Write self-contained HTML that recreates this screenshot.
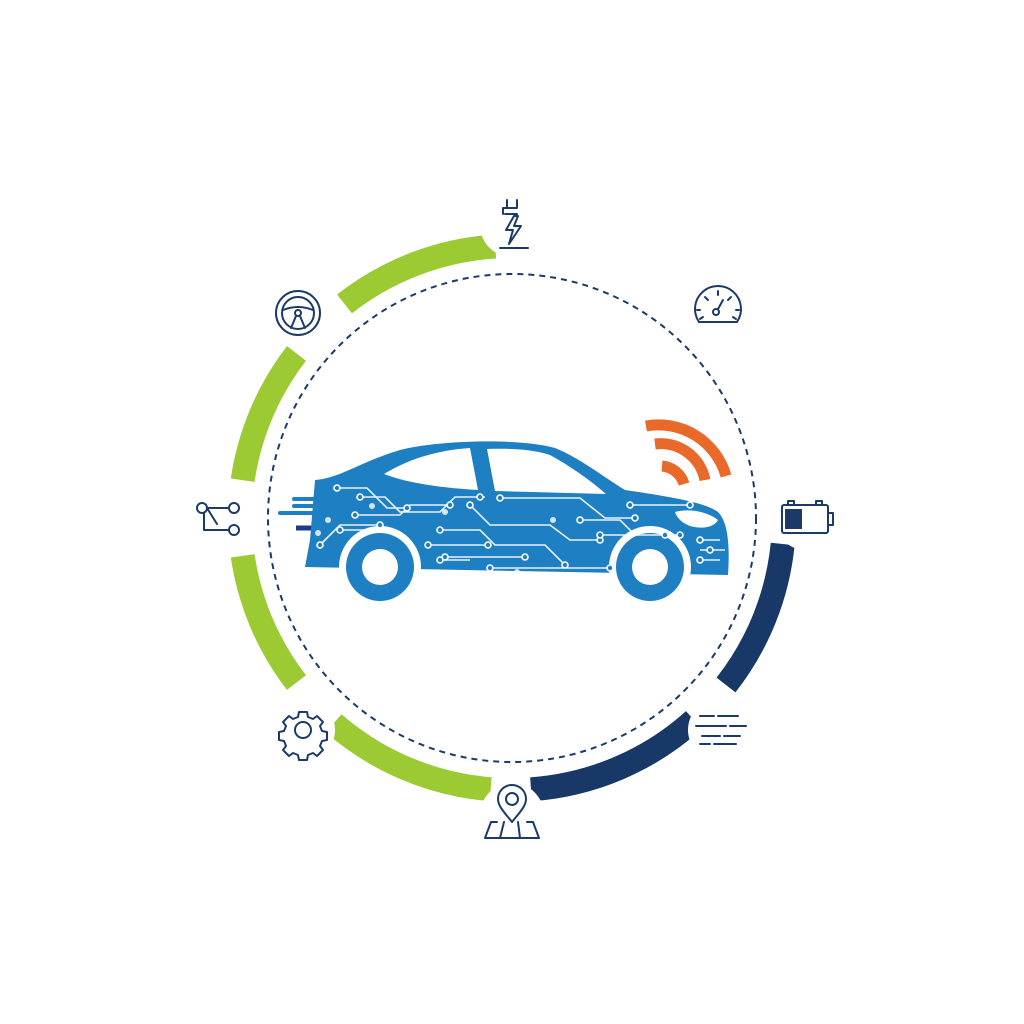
<!DOCTYPE html>
<html><head><style>html,body{margin:0;padding:0;background:#fff}svg{display:block}</style></head>
<body>
<svg width="1024" height="1024" viewBox="0 0 1024 1024" xmlns="http://www.w3.org/2000/svg">
<rect width="1024" height="1024" fill="#fff"/>
<g fill="none" stroke-width="24">
<path d="M495.3,246.5 A272,272 0 0 0 344.5,303.9" stroke="#9bca32"/>
<path d="M296.5,353.4 A272,272 0 0 0 242.7,480.2" stroke="#9bca32"/>
<path d="M242.7,555.8 A272,272 0 0 0 296.5,682.6" stroke="#9bca32"/>
<path d="M333.6,723.3 A272,272 0 0 0 490.7,789.2" stroke="#9bca32"/>
<path d="M531,789.3 A272,272 0 0 0 694,720" stroke="#183868"/>
<path d="M726,685 A272,272 0 0 0 782.7,544" stroke="#183868"/>
</g>
<circle cx="512" cy="518" r="244" fill="none" stroke="#1c3a66" stroke-width="2" stroke-dasharray="6,5"/>
<g fill="#fff">
<circle cx="512" cy="225" r="32"/><circle cx="298" cy="312" r="32"/><circle cx="218" cy="518" r="32"/>
<circle cx="303" cy="730" r="32"/><circle cx="512" cy="815" r="32"/><circle cx="720" cy="730" r="32"/>
<circle cx="806" cy="518" r="32"/><circle cx="718" cy="305" r="32"/>
</g>
<g fill="none" stroke="#1c3a66" stroke-width="2" stroke-linejoin="round" stroke-linecap="round">
<path d="M507,200 v8 M517,200 v8 M503,208 h14 M503,208 v6 M505,214 h12 M514,216 l-8,14 h7 l-4,14 l12,-18 h-7 l4,-10 z M500,248 h28"/>
<circle cx="298" cy="313" r="22"/><circle cx="298" cy="313" r="16"/><circle cx="298" cy="313" r="3"/>
<path d="M283,310 q15,-6 30,0 M296,316 l-5,12 M300,316 l5,12"/>
<path d="M699,322 A23,23 0 1 1 737,322 z M718,291 v4 M705,297 l3,3 M731,297 l-3,3 M697,310 h3 M739,310 h-3 M700,319 l3,-2 M736,319 l-3,-2"/>
<circle cx="716" cy="312" r="3"/><path d="M718,309 l5,-9"/>
<rect x="782" y="505" width="46" height="28" rx="2"/><path d="M828,513 h5 v12 h-5 M788,505 v-4 h6 v4 M816,505 v-4 h6 v4"/>
<circle cx="202" cy="508" r="5"/><circle cx="234" cy="508" r="5"/><circle cx="234" cy="530" r="5"/>
<path d="M207,508 h22 M207,508 l10,16 M204,530 h25 M204,513 v17"/>
<circle cx="303" cy="730" r="8"/>
<path d="M299,712 h8 l1,5 l5,2 l4,-3 l6,6 l-3,4 l2,5 l5,1 v8 l-5,1 l-2,5 l3,4 l-6,6 l-4,-3 l-5,2 l-1,5 h-8 l-1,-5 l-5,-2 l-4,3 l-6,-6 l3,-4 l-2,-5 l-5,-1 v-8 l5,-1 l2,-5 l-3,-4 l6,-6 l4,3 l5,-2 z"/>
<path d="M512,822 c-8,-10 -14,-16 -14,-23 a14,14 0 0 1 28,0 c0,7 -6,13 -14,23 z"/><circle cx="512" cy="799" r="6"/>
<path d="M497,822 h-6 l-6,16 h54 l-6,-16 h-6 M500,838 l4,-16 M520,838 l-2,-16"/>
<path d="M700,716 h14 M718,716 h20 M696,726 h30 M730,726 h16 M702,736 h18 M724,736 h16 M700,744 h10 M714,744 h22"/>
</g>
<rect x="785" y="509" width="17" height="20" fill="#1c3a66"/>
<g fill="none" stroke="#e8692a" stroke-width="11">
<path d="M662,466 a25,25 0 0 1 22,18"/>
<path d="M655,444 a45,45 0 0 1 50,36"/>
<path d="M646,426 a70,70 0 0 1 80,50"/>
</g>
<g stroke="#1e7fc3" stroke-width="4" stroke-linecap="round">
<line x1="294" y1="499" x2="318" y2="499"/><line x1="280" y1="513" x2="318" y2="513"/><line x1="294" y1="506" x2="318" y2="506"/>
</g>
<line x1="296" y1="528" x2="318" y2="528" stroke="#1c3a8a" stroke-width="5"/>
<path d="M315,480 C340,478 360,462 400,450 C440,440 520,438 555,448 C580,458 605,478 625,490 C665,496 705,502 718,512 C728,522 730,545 728,575 L305,567 L310,540 Z" fill="#1e7fc3"/>
<path d="M384,474 C410,458 440,450 470,448 L478,490 C445,488 410,484 384,474 Z" fill="#fff"/>
<path d="M487,449 C515,448 535,450 550,455 C570,466 590,480 606,494 L495,491 Z" fill="#fff"/>
<path d="M675,512 C690,508 708,512 718,520 C715,526 705,530 690,526 C682,523 677,518 675,512 Z" fill="#fff"/>
<circle cx="380" cy="567" r="41" fill="#fff"/><circle cx="650" cy="567" r="41" fill="#fff"/>
<circle cx="380" cy="567" r="34" fill="#1e7fc3"/><circle cx="650" cy="567" r="34" fill="#1e7fc3"/>
<circle cx="380" cy="567" r="18" fill="#fff"/><circle cx="650" cy="567" r="18" fill="#fff"/>
<g fill="none" stroke="#fff" stroke-width="1.6" opacity="0.9">
<path d="M337,488 h30 l20,20 h20 M360,497 h25 l15,15 h40 l15,-15 h30 M355,515 h45 l10,-10 h40 M440,530 h40 l15,15 h50 l20,20 M470,505 l20,20 h60 l20,15 h30 M500,498 h80 l25,20 h30 M428,545 h60 M445,557 h80 M490,568 h120 M580,520 h40 l15,15 h30 M630,505 h60 M600,535 h80 M700,540 h20 M700,550 h25 M700,560 h20 M320,545 l20,-20 h40 M440,560 h30 M340,530 h30"/>
</g>
<g fill="#1e7fc3" stroke="#fff" stroke-width="1.6">
<circle cx="337" cy="488" r="3"/><circle cx="407" cy="508" r="3"/><circle cx="360" cy="497" r="3"/><circle cx="480" cy="497" r="3"/>
<circle cx="355" cy="515" r="3"/><circle cx="450" cy="505" r="3"/><circle cx="440" cy="530" r="3"/><circle cx="565" cy="565" r="3"/>
<circle cx="470" cy="505" r="3"/><circle cx="600" cy="540" r="3"/><circle cx="500" cy="498" r="3"/><circle cx="635" cy="518" r="3"/>
<circle cx="428" cy="545" r="3"/><circle cx="488" cy="545" r="3"/><circle cx="445" cy="557" r="3"/><circle cx="525" cy="557" r="3"/>
<circle cx="490" cy="568" r="3"/><circle cx="610" cy="568" r="3"/><circle cx="580" cy="520" r="3"/><circle cx="665" cy="535" r="3"/>
<circle cx="630" cy="505" r="3"/><circle cx="690" cy="505" r="3"/><circle cx="600" cy="535" r="3"/><circle cx="680" cy="535" r="3"/>
<circle cx="700" cy="540" r="3"/><circle cx="700" cy="560" r="3"/><circle cx="320" cy="545" r="3"/><circle cx="380" cy="525" r="3"/>
<circle cx="440" cy="560" r="3"/><circle cx="340" cy="530" r="3"/><circle cx="710" cy="550" r="3"/>
</g>
<g fill="#fff" opacity="0.8">
<circle cx="328" cy="520" r="3"/><circle cx="372" cy="506" r="3"/><circle cx="445" cy="512" r="3"/><circle cx="553" cy="520" r="3"/><circle cx="517" cy="572" r="3"/><circle cx="318" cy="533" r="3"/>
</g>
</svg>
</body></html>
